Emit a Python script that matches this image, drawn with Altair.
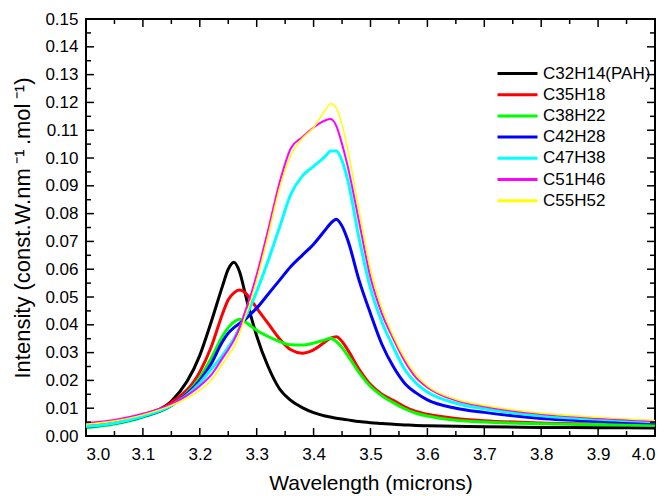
import altair as alt
import pandas as pd

# Wavelength grid (microns)
WAVELENGTH = [3.00, 3.05, 3.10, 3.15, 3.20, 3.22, 3.24, 3.25, 3.26, 3.27, 3.28, 3.29,
              3.30, 3.32, 3.34, 3.36, 3.38, 3.40, 3.42, 3.43, 3.44, 3.45, 3.46, 3.48,
              3.50, 3.52, 3.54, 3.56, 3.58, 3.60, 3.65, 3.70, 3.80, 3.90, 4.00]

C32H14 = [.0035, .0048, .0075, .0125, .029, .041, .054, .060, .0625, .059, .051, .043,
          .036, .025, .017, .0128, .0102, .0084, .0072, .0068, .0064, .0061, .0058, .0052,
          .0048, .0045, .0042, .0040, .0038, .0037, .0035, .0033, .0031, .0030, .0029]
C35H18 = [.0035, .0048, .0073, .012, .023, .032, .044, .049, .0515, .0525, .0515, .049,
          .046, .0405, .035, .031, .0298, .031, .0338, .0352, .0357, .034, .031, .024,
          .0185, .015, .0128, .0105, .0088, .0078, .0063, .0055, .0047, .0043, .0041]
C38H22 = [.0030, .0043, .0068, .011, .021, .028, .036, .039, .041, .042, .041, .0395,
          .038, .0358, .034, .0328, .0327, .0334, .0346, .0352, .034, .0318, .029, .0228,
          .0178, .0145, .012, .0098, .0082, .0072, .0057, .0050, .0044, .0041, .0039]
C42H28 = [.0033, .0046, .0070, .011, .020, .026, .034, .037, .039, .0405, .042, .044,
          .046, .051, .056, .061, .065, .069, .074, .0765, .078, .0755, .0705, .056,
          .044, .033, .025, .019, .0155, .013, .010, .0085, .0063, .0053, .0047]
C47H38 = [.0034, .0046, .0071, .011, .019, .024, .029, .032, .035, .039, .043, .047,
          .052, .063, .075, .087, .0935, .097, .1005, .1025, .1025, .099, .092, .071,
          .053, .041, .032, .024, .019, .0158, .0118, .0098, .0073, .0060, .0051]
C51H46 = [.0047, .0058, .0080, .0115, .018, .022, .028, .031, .0345, .039, .045, .051,
          .058, .074, .091, .1035, .1075, .111, .1135, .114, .1115, .105, .097, .077,
          .057, .044, .035, .027, .021, .0175, .0128, .0106, .0079, .0064, .0054]
C55H52 = [.0042, .0054, .0076, .011, .0165, .020, .026, .029, .032, .037, .043, .049,
          .056, .072, .089, .101, .107, .111, .117, .1195, .118, .112, .103, .081,
          .060, .046, .036, .028, .022, .018, .0132, .011, .0082, .0067, .0056]

SERIES = ["C32H14(PAH)", "C35H18", "C38H22", "C42H28", "C47H38", "C51H46", "C55H52"]
VALUES = [C32H14, C35H18, C38H22, C42H28, C47H38, C51H46, C55H52]
COLORS = ["#000000", "#ff0000", "#00ff00", "#0000ff", "#00ffff", "#ff00ff", "#ffff00"]
WIDTHS = [3, 3, 3, 3, 3, 2, 1.5]

X_MAJOR = [3.0, 3.1, 3.2, 3.3, 3.4, 3.5, 3.6, 3.7, 3.8, 3.9, 4.0]
X_MINOR = [3.05, 3.15, 3.25, 3.35, 3.45, 3.55, 3.65, 3.75, 3.85, 3.95]
Y_MAJOR = [0.00, 0.01, 0.02, 0.03, 0.04, 0.05, 0.06, 0.07, 0.08, 0.09, 0.10,
           0.11, 0.12, 0.13, 0.14, 0.15]
Y_MINOR = [0.005, 0.015, 0.025, 0.035, 0.045, 0.055, 0.065, 0.075, 0.085, 0.095,
           0.105, 0.115, 0.125, 0.135, 0.145]

W, H = 569, 417
FONT = "Liberation Sans"
MAJOR_LEN, MINOR_LEN = 8, 5

rows = []
for k, (name, vals, w) in enumerate(zip(SERIES, VALUES, WIDTHS)):
    for x, y in zip(WAVELENGTH, vals):
        rows.append({"wl": x, "I": y, "mol": name, "k": k, "w": w})
df = pd.DataFrame(rows)

xscale = alt.Scale(domain=[3.0, 4.0], nice=False, zero=False)
yscale = alt.Scale(domain=[0.0, 0.15001], nice=False, zero=False)

x_axis = alt.Axis(title="Wavelength (microns)", values=X_MAJOR, format=".1f",
                  ticks=False, domain=False, grid=False, labelPadding=10,
                  titlePadding=10, labelOverlap=False, titleFontSize=21)
y_axis = alt.Axis(title="Intensity (const.W.nm\u2009⁻¹\u2009.mol\u2009⁻¹)", values=Y_MAJOR,
                  format=".2f", ticks=False, domain=False, grid=False,
                  labelPadding=8, titlePadding=10, labelOverlap=False, titleFontSize=22)
color = alt.Color("mol:N", scale=alt.Scale(domain=SERIES, range=COLORS),
                  legend=alt.Legend(title=None, orient="none", legendX=410,
                                    legendY=46, symbolType="stroke",
                                    symbolSize=1600, labelOffset=4,
                                    clipHeight=17, rowPadding=3.2,
                                    labelFontSize=17, labelFont=FONT,
                                    labelColor="black", symbolStrokeWidth=3))


def series_layer(width):
    return alt.Chart(df).transform_filter(alt.datum.w == width).mark_line(
        interpolate="monotone", clip=True, strokeWidth=width
    ).encode(
        x=alt.X("wl:Q", scale=xscale, axis=x_axis),
        y=alt.Y("I:Q", scale=yscale, axis=y_axis),
        color=color,
        order=alt.Order("k:Q"),
    )


line_layers = [series_layer(w) for w in [3, 2, 1.5]]


def ticks_x(vals, length):
    d = pd.DataFrame({"t": vals})
    bottom = alt.Chart(d).mark_rule(color="black", strokeWidth=1.5).encode(
        x=alt.X("t:Q", scale=xscale, axis=x_axis), y=alt.value(H), y2=alt.value(H - length))
    top = alt.Chart(d).mark_rule(color="black", strokeWidth=1.5).encode(
        x=alt.X("t:Q", scale=xscale, axis=x_axis), y=alt.value(0), y2=alt.value(length))
    return [bottom, top]


def ticks_y(vals, length):
    d = pd.DataFrame({"t": vals})
    left = alt.Chart(d).mark_rule(color="black", strokeWidth=1.5).encode(
        y=alt.Y("t:Q", scale=yscale, axis=y_axis), x=alt.value(0), x2=alt.value(length))
    right = alt.Chart(d).mark_rule(color="black", strokeWidth=1.5).encode(
        y=alt.Y("t:Q", scale=yscale, axis=y_axis), x=alt.value(W), x2=alt.value(W - length))
    return [left, right]


tick_layers = (ticks_x(X_MAJOR, MAJOR_LEN) + ticks_x(X_MINOR, MINOR_LEN)
               + ticks_y(Y_MAJOR, MAJOR_LEN) + ticks_y(Y_MINOR, MINOR_LEN))

chart = alt.layer(*line_layers, *tick_layers).properties(
    width=W, height=H,
    autosize=alt.AutoSizeParams(type="none"),
    padding={"left": 86, "top": 19, "right": 13, "bottom": 60},
    background="white",
).configure_view(
    stroke="black", strokeWidth=2
).configure_axis(
    labelFont=FONT, titleFont=FONT, labelFontSize=17,
    labelColor="black", titleColor="black", titleFontWeight="normal",
)

chart.save("out.html", embed_options={"renderer": "svg", "actions": False})
